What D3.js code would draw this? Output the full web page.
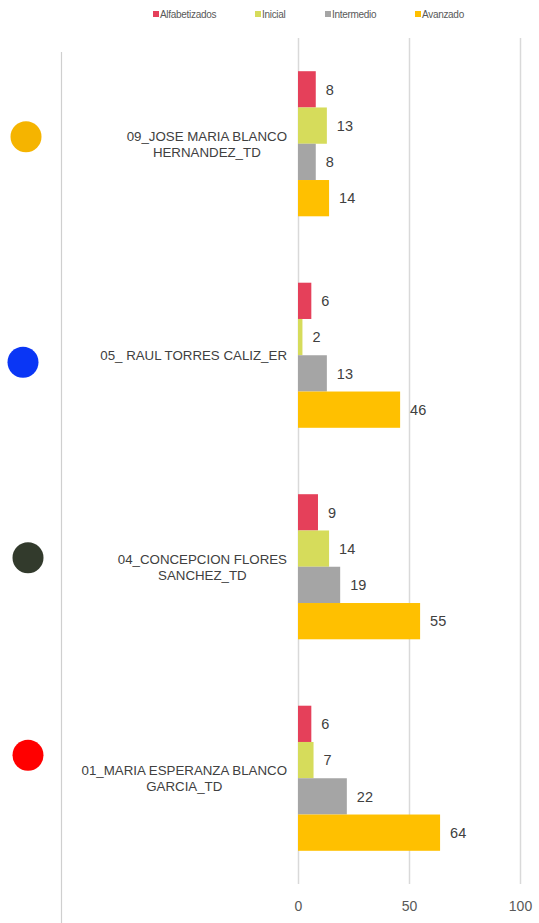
<!DOCTYPE html>
<html>
<head>
<meta charset="utf-8">
<script src="https://cdn.jsdelivr.net/npm/d3@7"></script>
<style>
  html, body { margin: 0; padding: 0; background: #fff; }
  svg { display: block; font-family: "Liberation Sans", Arial, sans-serif; }
</style>
</head>
<body>
<svg id="chart" width="539" height="923"></svg>
<script>
// ---- data ----
const categories = [
  "09_JOSE MARIA BLANCO\nHERNANDEZ_TD",
  "05_ RAUL TORRES CALIZ_ER",
  "04_CONCEPCION FLORES\nSANCHEZ_TD",
  "01_MARIA ESPERANZA BLANCO\nGARCIA_TD"
];
const seriesNames = ["Alfabetizados", "Inicial", "Intermedio", "Avanzado"];
const alfabetizados = [8, 6, 9, 6];
const inicial = [13, 2, 14, 7];
const intermedio = [8, 13, 19, 22];
const avanzado = [14, 46, 55, 64];
const xTicks = [0, 50, 100];
const seriesColors = ["#E5405A", "#D6DC5B", "#A5A5A5", "#FFC000"];
const markerColors = ["#F5B400", "#0A36F5", "#323A2C", "#FF0000"];

const seriesValues = [alfabetizados, inicial, intermedio, avanzado];

// ---- layout ----
const svg = d3.select("#chart");
const plotTop = 38, plotBottom = 884;
const x = d3.scaleLinear().domain([0, 100]).range([298, 520]);
const y = d3.scaleBand().domain(categories).range([plotTop, plotBottom])
  .paddingInner(0.314).paddingOuter(0.157);
const ySub = d3.scaleBand().domain(seriesNames).range([0, y.bandwidth()]);

// left separator line
svg.append("line").attr("x1", 61.5).attr("x2", 61.5).attr("y1", 52).attr("y2", 923)
  .attr("stroke", "#CFCFCF").attr("stroke-width", 1.2);

// gridlines
svg.append("g").selectAll("line").data(xTicks).join("line")
  .attr("x1", d => Math.round(x(d)) + 0.5).attr("x2", d => Math.round(x(d)) + 0.5)
  .attr("y1", plotTop).attr("y2", plotBottom)
  .attr("stroke", "#D9D9D9").attr("stroke-width", 1.5);

// x axis labels
const xAxis = d3.axisBottom(x).tickValues(xTicks).tickSize(0).tickPadding(0).tickFormat(d3.format("d"));
const gx = svg.append("g").attr("transform", `translate(0,${plotBottom + 17})`).call(xAxis);
gx.select(".domain").remove();
gx.selectAll("text").attr("font-size", 14).attr("fill", "#595959")
  .attr("font-family", "Liberation Sans, Arial, sans-serif");

// bars
const groups = svg.append("g").selectAll("g").data(categories).join("g")
  .attr("transform", d => `translate(0,${y(d)})`);

groups.each(function(cat, ci) {
  const g = d3.select(this);
  seriesNames.forEach((s, si) => {
    const v = seriesValues[si][ci];
    g.append("rect")
      .attr("x", x(0)).attr("y", ySub(s))
      .attr("width", x(v) - x(0)).attr("height", ySub.bandwidth())
      .attr("fill", seriesColors[si]);
    g.append("text")
      .attr("x", x(v) + 10).attr("y", ySub(s) + ySub.bandwidth() / 2)
      .attr("dy", "0.36em")
      .attr("font-size", 14.5).attr("fill", "#404040")
      .text(v);
  });
});

// category labels (lines centred, block right-aligned)
const labelRight = 287;
categories.forEach(cat => {
  const lines = cat.split("\n");
  const cy = y(cat) + y.bandwidth() / 2;
  const t = svg.append("text").attr("font-size", 13.3).attr("fill", "#404040")
    .attr("text-anchor", "middle");
  const lh = 16;
  const startY = cy - (lines.length - 1) * lh / 2;
  lines.forEach((ln, i) => {
    t.append("tspan").attr("y", startY + i * lh).attr("dy", "0.36em").text(ln);
  });
  let maxW = 0;
  t.selectAll("tspan").each(function() { maxW = Math.max(maxW, this.getComputedTextLength()); });
  t.selectAll("tspan").attr("x", labelRight - maxW / 2);
});

// decorative markers next to each category
const markerDx = [26, 23, 28, 28];
const markerDy = [-7, 7, -9, -23];
categories.forEach((cat, i) => {
  svg.append("circle")
    .attr("cx", markerDx[i])
    .attr("cy", y(cat) + y.bandwidth() / 2 + markerDy[i])
    .attr("r", 15.5)
    .attr("fill", markerColors[i]);
});

// legend
const legendX = [153, 255, 325, 415];
const legend = svg.append("g").selectAll("g").data(seriesNames).join("g")
  .attr("transform", (d, i) => `translate(${legendX[i]},0)`);
legend.append("rect").attr("x", 0).attr("y", 11).attr("width", 6).attr("height", 6)
  .attr("fill", (d, i) => seriesColors[i]);
legend.append("text").attr("x", 7).attr("y", 18).attr("font-size", 10)
  .attr("fill", "#595959").attr("letter-spacing", -0.3).text(d => d);
</script>
</body>
</html>
